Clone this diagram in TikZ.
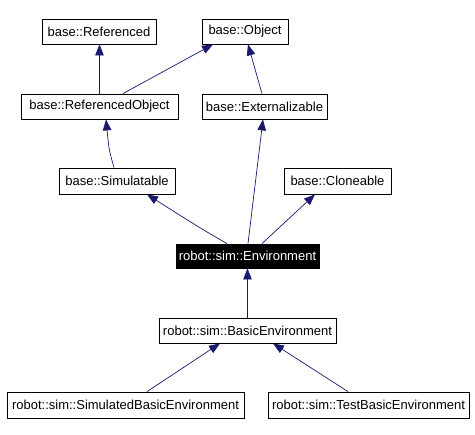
\documentclass[tikz,border=0pt]{standalone}
\usepackage{fontspec}
\setmainfont{Liberation Sans}
\usetikzlibrary{arrows.meta}
\definecolor{edgeblue}{HTML}{191970}
\begin{document}
\begin{tikzpicture}[x=1pt,y=-1pt,
  cls/.style={draw=black,line width=0.8pt,fill=white,inner sep=0pt,minimum height=25pt,font=\fontsize{13}{15}\selectfont},
  cur/.style={cls,fill=black,text=white},
  inh/.style={draw=edgeblue,line width=0.7pt,-{Triangle[length=11pt,width=8.5pt]},edgeblue}]
\useasboundingbox (0,0) rectangle (475,435);
\node[cls,minimum width=114pt] (ref) at (99,31.5) {base::Referenced};
\node[cls,minimum width=86pt] (obj) at (245,31.5) {base::Object};
\node[cls,minimum width=157pt] (refobj) at (99.5,106.5) {base::ReferencedObject};
\node[cls,minimum width=125pt] (ext) at (264.5,106.5) {base::Externalizable};
\node[cls,minimum width=116pt,minimum height=26pt] (sim) at (117,181) {base::Simulatable};
\node[cls,minimum width=107pt,minimum height=26pt] (clone) at (337.5,181) {base::Cloneable};
\node[cur,minimum width=143pt,minimum height=24pt] (env) at (247.5,256) {robot::sim::Environment};
\node[cls,minimum width=177pt] (basic) at (247.5,330.5) {robot::sim::BasicEnvironment};
\node[cls,minimum width=237pt,minimum height=26pt] (simbasic) at (125.5,405) {robot::sim::SimulatedBasicEnvironment};
\node[cls,minimum width=201pt,minimum height=26pt] (testbasic) at (368.5,405) {robot::sim::TestBasicEnvironment};

\draw[inh] (refobj.north) -- (refobj.north |- ref.south);
\draw[inh] ([xshift=23.5pt]refobj.north) -- ([xshift=-32pt]obj.south);
\draw[inh] ([xshift=-2.5pt]ext.north) -- ([xshift=3pt]obj.south);
\draw[inh] ([xshift=-3pt]sim.north) .. controls (109,150) .. ([xshift=6.5pt]refobj.south);
\draw[inh] ([xshift=0.5pt]env.north) -- ([xshift=-1.5pt]ext.south);
\draw[inh] ([xshift=-20.5pt]env.north) .. controls (200,228) .. ([xshift=30pt]sim.south);
\draw[inh] ([xshift=14.5pt]env.north) -- ([xshift=-22.5pt]clone.south);
\draw[inh] (basic.north) -- (env.south);
\draw[inh] ([xshift=21.5pt]simbasic.north) -- ([xshift=-27.5pt]basic.south);
\draw[inh] ([xshift=-20.5pt]testbasic.north) -- ([xshift=25.5pt]basic.south);
\end{tikzpicture}
\end{document}
